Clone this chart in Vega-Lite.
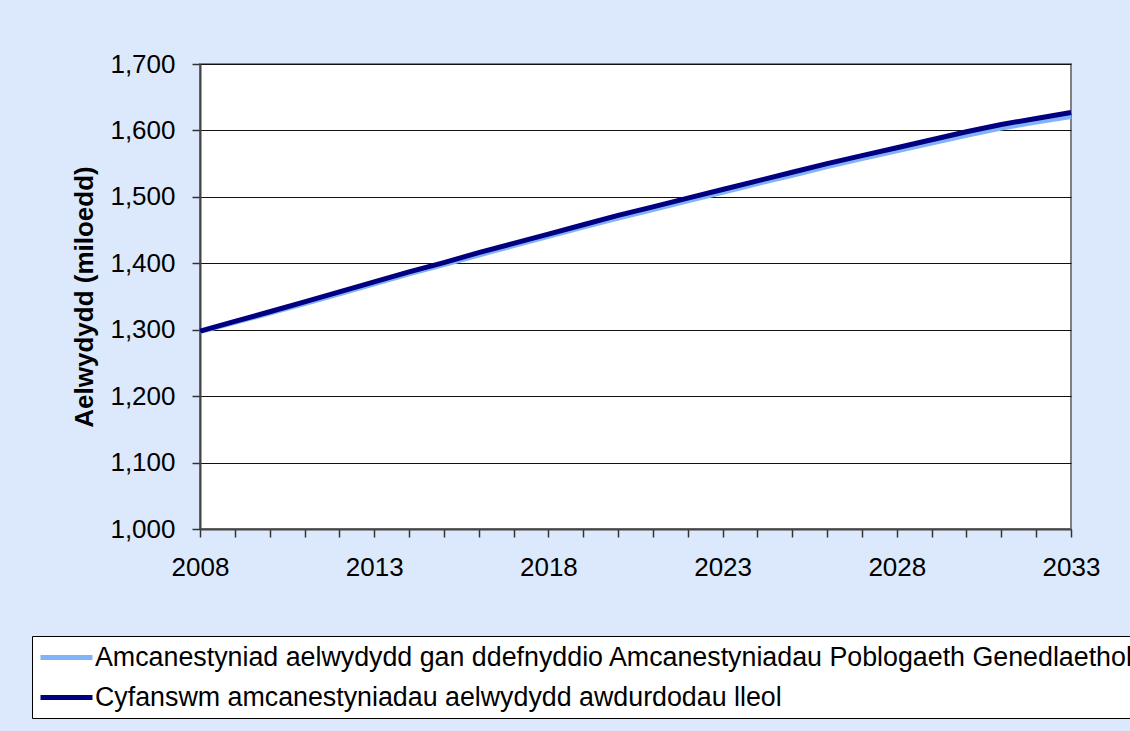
{
  "$schema": "https://vega.github.io/schema/vega-lite/v6.json",
  "autosize": {"type": "none"},
  "width": 871,
  "height": 465,
  "padding": {"left": 200, "top": 64, "right": 59, "bottom": 202},
  "background": "#dce9fc",
  "config": {
    "font": "Liberation Sans",
    "view": {"fill": "white", "stroke": "#808080", "strokeWidth": 2}
  },
  "data": {
    "values": [
      {"year": 2008, "Amcanestyniad aelwydydd gan ddefnyddio Amcanestyniadau Poblogaeth Genedlaethol": 1297, "Cyfanswm amcanestyniadau aelwydydd awdurdodau lleol": 1298},
      {"year": 2009, "Amcanestyniad aelwydydd gan ddefnyddio Amcanestyniadau Poblogaeth Genedlaethol": 1311, "Cyfanswm amcanestyniadau aelwydydd awdurdodau lleol": 1312.5},
      {"year": 2010, "Amcanestyniad aelwydydd gan ddefnyddio Amcanestyniadau Poblogaeth Genedlaethol": 1325, "Cyfanswm amcanestyniadau aelwydydd awdurdodau lleol": 1327},
      {"year": 2011, "Amcanestyniad aelwydydd gan ddefnyddio Amcanestyniadau Poblogaeth Genedlaethol": 1339.5, "Cyfanswm amcanestyniadau aelwydydd awdurdodau lleol": 1342},
      {"year": 2012, "Amcanestyniad aelwydydd gan ddefnyddio Amcanestyniadau Poblogaeth Genedlaethol": 1354, "Cyfanswm amcanestyniadau aelwydydd awdurdodau lleol": 1357},
      {"year": 2013, "Amcanestyniad aelwydydd gan ddefnyddio Amcanestyniadau Poblogaeth Genedlaethol": 1369, "Cyfanswm amcanestyniadau aelwydydd awdurdodau lleol": 1372},
      {"year": 2014, "Amcanestyniad aelwydydd gan ddefnyddio Amcanestyniadau Poblogaeth Genedlaethol": 1384, "Cyfanswm amcanestyniadau aelwydydd awdurdodau lleol": 1387},
      {"year": 2015, "Amcanestyniad aelwydydd gan ddefnyddio Amcanestyniadau Poblogaeth Genedlaethol": 1398, "Cyfanswm amcanestyniadau aelwydydd awdurdodau lleol": 1401},
      {"year": 2016, "Amcanestyniad aelwydydd gan ddefnyddio Amcanestyniadau Poblogaeth Genedlaethol": 1412.5, "Cyfanswm amcanestyniadau aelwydydd awdurdodau lleol": 1416},
      {"year": 2017, "Amcanestyniad aelwydydd gan ddefnyddio Amcanestyniadau Poblogaeth Genedlaethol": 1426.5, "Cyfanswm amcanestyniadau aelwydydd awdurdodau lleol": 1430},
      {"year": 2018, "Amcanestyniad aelwydydd gan ddefnyddio Amcanestyniadau Poblogaeth Genedlaethol": 1440.5, "Cyfanswm amcanestyniadau aelwydydd awdurdodau lleol": 1444},
      {"year": 2019, "Amcanestyniad aelwydydd gan ddefnyddio Amcanestyniadau Poblogaeth Genedlaethol": 1454.5, "Cyfanswm amcanestyniadau aelwydydd awdurdodau lleol": 1458},
      {"year": 2020, "Amcanestyniad aelwydydd gan ddefnyddio Amcanestyniadau Poblogaeth Genedlaethol": 1468, "Cyfanswm amcanestyniadau aelwydydd awdurdodau lleol": 1472},
      {"year": 2021, "Amcanestyniad aelwydydd gan ddefnyddio Amcanestyniadau Poblogaeth Genedlaethol": 1481, "Cyfanswm amcanestyniadau aelwydydd awdurdodau lleol": 1485},
      {"year": 2022, "Amcanestyniad aelwydydd gan ddefnyddio Amcanestyniadau Poblogaeth Genedlaethol": 1494, "Cyfanswm amcanestyniadau aelwydydd awdurdodau lleol": 1498},
      {"year": 2023, "Amcanestyniad aelwydydd gan ddefnyddio Amcanestyniadau Poblogaeth Genedlaethol": 1507, "Cyfanswm amcanestyniadau aelwydydd awdurdodau lleol": 1511},
      {"year": 2024, "Amcanestyniad aelwydydd gan ddefnyddio Amcanestyniadau Poblogaeth Genedlaethol": 1520, "Cyfanswm amcanestyniadau aelwydydd awdurdodau lleol": 1524},
      {"year": 2025, "Amcanestyniad aelwydydd gan ddefnyddio Amcanestyniadau Poblogaeth Genedlaethol": 1532.5, "Cyfanswm amcanestyniadau aelwydydd awdurdodau lleol": 1537},
      {"year": 2026, "Amcanestyniad aelwydydd gan ddefnyddio Amcanestyniadau Poblogaeth Genedlaethol": 1545.5, "Cyfanswm amcanestyniadau aelwydydd awdurdodau lleol": 1550},
      {"year": 2027, "Amcanestyniad aelwydydd gan ddefnyddio Amcanestyniadau Poblogaeth Genedlaethol": 1557.5, "Cyfanswm amcanestyniadau aelwydydd awdurdodau lleol": 1562},
      {"year": 2028, "Amcanestyniad aelwydydd gan ddefnyddio Amcanestyniadau Poblogaeth Genedlaethol": 1569.5, "Cyfanswm amcanestyniadau aelwydydd awdurdodau lleol": 1574},
      {"year": 2029, "Amcanestyniad aelwydydd gan ddefnyddio Amcanestyniadau Poblogaeth Genedlaethol": 1581, "Cyfanswm amcanestyniadau aelwydydd awdurdodau lleol": 1586},
      {"year": 2030, "Amcanestyniad aelwydydd gan ddefnyddio Amcanestyniadau Poblogaeth Genedlaethol": 1592.5, "Cyfanswm amcanestyniadau aelwydydd awdurdodau lleol": 1598},
      {"year": 2031, "Amcanestyniad aelwydydd gan ddefnyddio Amcanestyniadau Poblogaeth Genedlaethol": 1603.5, "Cyfanswm amcanestyniadau aelwydydd awdurdodau lleol": 1609},
      {"year": 2032, "Amcanestyniad aelwydydd gan ddefnyddio Amcanestyniadau Poblogaeth Genedlaethol": 1612.5, "Cyfanswm amcanestyniadau aelwydydd awdurdodau lleol": 1618},
      {"year": 2033, "Amcanestyniad aelwydydd gan ddefnyddio Amcanestyniadau Poblogaeth Genedlaethol": 1621, "Cyfanswm amcanestyniadau aelwydydd awdurdodau lleol": 1627}
    ]
  },
  "transform": [
    {"fold": ["Amcanestyniad aelwydydd gan ddefnyddio Amcanestyniadau Poblogaeth Genedlaethol", "Cyfanswm amcanestyniadau aelwydydd awdurdodau lleol"], "as": ["series", "value"]}
  ],
  "mark": {"type": "line", "strokeWidth": 5, "strokeCap": "butt", "clip": false},
  "encoding": {
    "x": {
      "field": "year", "type": "quantitative",
      "scale": {"domain": [2008, 2033], "nice": false, "zero": false},
      "axis": {
        "title": null,
        "values": [2008,2009,2010,2011,2012,2013,2014,2015,2016,2017,2018,2019,2020,2021,2022,2023,2024,2025,2026,2027,2028,2029,2030,2031,2032,2033],
        "labelExpr": "(datum.value - 2008) % 5 == 0 ? datum.value : ''",
        "format": "d",
        "grid": false,
        "domainColor": "#444444", "domainWidth": 2,
        "tickColor": "#333333", "tickWidth": 1.5, "tickSize": 8,
        "labelFontSize": 26, "labelColor": "black", "labelPadding": 17,
        "labelOverlap": false, "labelFlush": false, "labelBound": false
      }
    },
    "y": {
      "field": "value", "type": "quantitative",
      "scale": {"domain": [1000, 1700], "nice": false, "zero": false},
      "axis": {
        "title": "Aelwydydd (miloedd)",
        "titleFontSize": 26, "titleFontWeight": "bold", "titleColor": "black", "titlePadding": 12,
        "values": [1000,1100,1200,1300,1400,1500,1600,1700],
        "format": ",d",
        "grid": true, "gridColor": "#111111", "gridWidth": 1, "gridOpacity": 1,
        "domainColor": "#444444", "domainWidth": 2,
        "tickColor": "#333333", "tickWidth": 1.5, "tickSize": 8,
        "labelFontSize": 26, "labelColor": "black", "labelPadding": 17
      }
    },
    "color": {
      "field": "series", "type": "nominal",
      "scale": {
        "domain": ["Amcanestyniad aelwydydd gan ddefnyddio Amcanestyniadau Poblogaeth Genedlaethol", "Cyfanswm amcanestyniadau aelwydydd awdurdodau lleol"],
        "range": ["#80b3f8", "#000080"]
      },
      "legend": {
        "title": null,
        "orient": "none", "legendX": -168, "legendY": 572,
        "fillColor": "white", "strokeColor": "black",
        "padding": 6,
        "symbolType": "M-1,0H3", "symbolSize": 676, "symbolStrokeWidth": 5,
        "labelFontSize": 26.8, "labelColor": "black", "labelOffset": 26, "labelLimit": 2000,
        "rowPadding": 10
      }
    }
  }
}
